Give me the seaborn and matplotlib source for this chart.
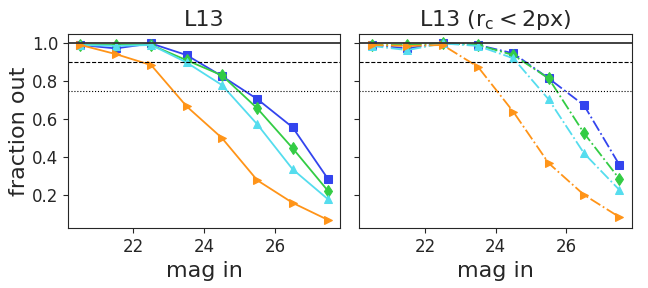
import numpy as np
import pandas as pd
import seaborn as sns
import matplotlib.pyplot as plt

sns.set_style("ticks")

mag = [20.5, 21.5, 22.5, 23.5, 24.5, 25.5, 26.5, 27.5]

# painel esquerdo: L13
blue_all = [0.99, 0.972, 0.998, 0.937, 0.826, 0.705, 0.556, 0.284]
green_all = [0.99, 0.99, 0.99, 0.91, 0.83, 0.656, 0.446, 0.221]
cyan_all = [0.99, 0.985, 0.99, 0.898, 0.779, 0.572, 0.335, 0.177]
orange_all = [0.99, 0.942, 0.884, 0.667, 0.50, 0.277, 0.158, 0.068]

# painel direito: L13 (r_c < 2px)
blue_rc = [0.99, 0.972, 1.0, 0.99, 0.946, 0.814, 0.672, 0.358]
green_rc = [0.99, 0.99, 1.0, 0.99, 0.937, 0.814, 0.525, 0.284]
cyan_rc = [0.985, 0.963, 0.998, 0.985, 0.92, 0.703, 0.419, 0.226]
orange_rc = [0.99, 0.985, 0.99, 0.875, 0.638, 0.367, 0.20, 0.083]

cores = ["#3344ee", "#33cc44", "#55ddee", "#ff9418"]
marcadores = ["s", "d", "^", ">"]

fig, axes = plt.subplots(1, 2, figsize=(6.48, 2.88), dpi=100, sharey=True)
fig.subplots_adjust(left=0.105, right=0.975, top=0.882, bottom=0.208, wspace=0.07)

paineis = [
    (axes[0], [blue_all, green_all, cyan_all, orange_all], "-", "L13"),
    (axes[1], [blue_rc, green_rc, cyan_rc, orange_rc], "-.", r"L13 (r$_{\rm c}<$2px)"),
]

for ax, series, ls, titulo in paineis:
    for vals, c, m in zip(series, cores, marcadores):
        sns.lineplot(x=mag, y=vals, ax=ax, color=c, marker=m, markersize=6,
                     markeredgecolor=c, linestyle=ls, linewidth=1.3)
    ax.axhline(1.0, color="#333333", lw=1.3)
    ax.axhline(0.9, color="k", ls="--", lw=0.8)
    ax.axhline(0.75, color="k", ls=":", lw=0.8)
    ax.set_xlim(20.15, 27.85)
    ax.set_ylim(0.025, 1.048)
    ax.set_xticks([22, 24, 26])
    ax.set_yticks([0.2, 0.4, 0.6, 0.8, 1.0])
    ax.tick_params(labelsize=12)
    ax.set_xlabel("mag in", fontsize=16)
    ax.set_title(titulo, fontsize=16)

axes[0].set_ylabel("fraction out", fontsize=16, labelpad=2)
plt.savefig("out.png")
